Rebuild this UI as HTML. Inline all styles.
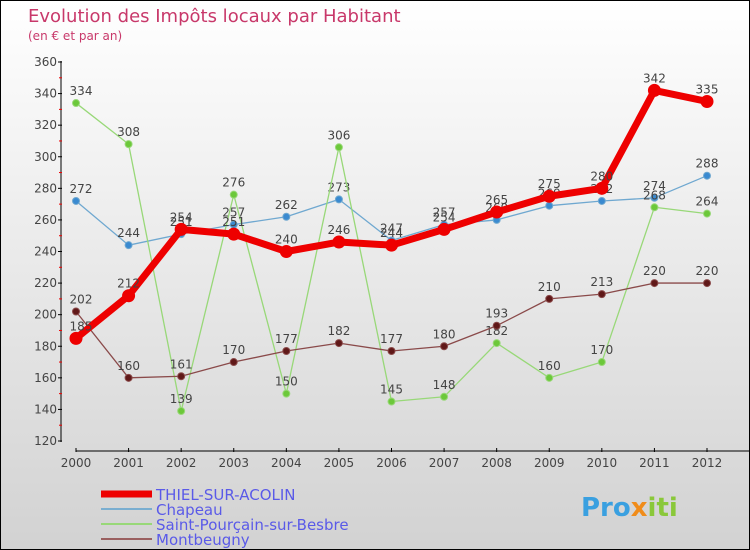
<!DOCTYPE html>
<html><head><meta charset="utf-8"><style>
body{margin:0}
#c{width:750px;height:550px;position:relative;box-sizing:border-box;border:1px solid #000;background:linear-gradient(#fff,#d2d2d2);font-family:"DejaVu Sans","Liberation Sans",sans-serif;overflow:hidden}
</style></head><body>
<div id="c">
<svg id="s" width="748" height="548" style="position:absolute;left:0;top:0"></svg>
</div>
<script>
const years=[2000,2001,2002,2003,2004,2005,2006,2007,2008,2009,2010,2011,2012];
const thiel=[185,212,254,251,240,246,244,254,265,275,280,342,335];
const chapeau=[272,244,251,257,262,273,247,257,260,269,272,274,288];
const saint=[334,308,139,276,150,306,145,148,182,160,170,268,264];
const mont=[202,160,161,170,177,182,177,180,193,210,213,220,220];
const yTicks=[120,140,160,180,200,220,240,260,280,300,320,340,360];
const seriesNames=["THIEL-SUR-ACOLIN","Chapeau","Saint-Pourçain-sur-Besbre","Montbeugny"];
const NS="http://www.w3.org/2000/svg";
const s=document.getElementById('s');
function X(i){return 75+i*(706-75)/12;}
function Y(v){return 440-(v-120)*(440-61)/240;}
function el(t,a,p){const e=document.createElementNS(NS,t);for(const k in a)e.setAttribute(k,a[k]);(p||s).appendChild(e);return e;}
function tx(x,y,str,a){const e=el('text',Object.assign({x:x,y:y,'font-size':12,fill:'#444'},a||{}));e.textContent=str;return e;}
// title
let t=tx(27,21,"Evolution des Impôts locaux par Habitant",{'font-size':18,fill:'#c8386a'});

t=tx(27,39,"(en € et par an)",{'font-size':12,fill:'#c8386a'});

// y axis
let ax=el('line',{x1:60,y1:60,x2:60,y2:441,stroke:'#000'});

yTicks.forEach((v,i)=>{
 el('line',{x1:57,y1:Y(v),x2:61,y2:Y(v),stroke:'#000'});
 const l=tx(56,Y(v)+4,String(v),{'text-anchor':'end','font-size':12});
 
 if(i<yTicks.length-1){el('line',{x1:58,y1:Y(v+10),x2:61,y2:Y(v+10),stroke:'#e00'});}
});
ax=el('line',{x1:75,y1:450,x2:750,y2:450,stroke:'#000'});

years.forEach((y,i)=>{
 el('line',{x1:X(i),y1:447,x2:X(i),y2:451,stroke:'#000'});
 const l=tx(X(i),466,String(y),{'text-anchor':'middle','font-size':12});
 
});
function series(data,color,w,r,fill,name,labelOff){
 const g=el('g',{});
 el('polyline',{points:data.map((v,i)=>X(i)+','+Y(v)).join(' '),fill:'none',stroke:color,'stroke-width':w,'stroke-linejoin':'round'},g);
 data.forEach((v,i)=>{
  const c=el('circle',{cx:X(i),cy:Y(v),r:r,fill:fill,stroke:color,'stroke-width':1},g);
  
  tx(X(i)+(i==0?5:0),Y(v)-8,String(v),{'text-anchor':'middle','font-size':12,fill:'#444'});
 });
}
series(chapeau,'#6fa8d0',1.3,3.5,'#3a8ad0','series-chapeau');
series(saint,'#98d878',1.3,3.5,'#6cc83a','series-saint-pourcain');
series(mont,'#8a4a4a',1.3,3.5,'#601818','series-montbeugny');
series(thiel,'#ee0000',7,6,'#ee0000','series-thiel');
// legend
const leg=[['#ee0000',7],['#7aaed0',2],['#98d878',2],['#9a6060',2]];
leg.forEach((l,i)=>{
 const y=493+i*15;
 const g=el('g',{});
 el('line',{x1:100,y1:y,x2:151,y2:y,stroke:l[0],'stroke-width':l[1]},g);
 tx(155,y+6,seriesNames[i],{'font-size':15,fill:'#5a5ae8'});
});
// logo
const lg=tx(580,515,"",{'font-size':26,'font-weight':'bold'});

[["Pro","#3aa0e0"],["x","#f08c1a"],["iti","#8ac83a"]].forEach(p=>{const ts=el('tspan',{fill:p[1]},lg);ts.textContent=p[0];});
</script>
</body></html>
